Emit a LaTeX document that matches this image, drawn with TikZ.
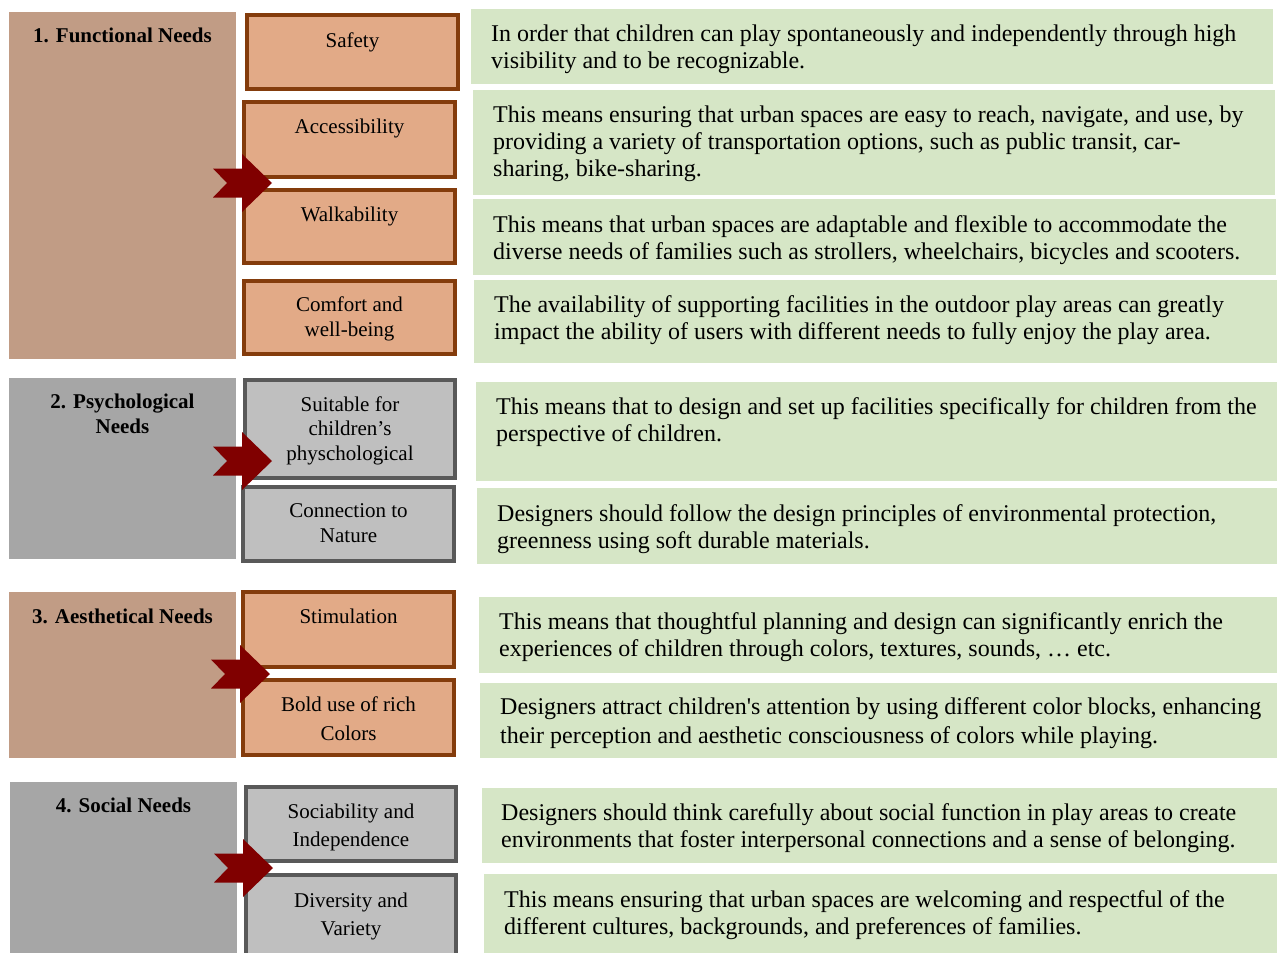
\documentclass[tikz,border=0pt]{standalone}
\usepackage{fontspec}
\setmainfont{Liberation Serif}
\definecolor{lbrown}{RGB}{193,156,133}
\definecolor{lgray}{RGB}{166,166,166}
\definecolor{ofill}{RGB}{226,170,135}
\definecolor{oline}{RGB}{132,60,12}
\definecolor{mgfill}{RGB}{191,191,191}
\definecolor{mgline}{RGB}{89,89,89}
\definecolor{gfill}{RGB}{214,230,198}
\definecolor{arrowred}{RGB}{128,0,0}
\tikzset{
  boxbase/.style={rectangle, inner sep=0pt, outer sep=0pt, anchor=north west},
  obox/.style={boxbase, fill=ofill, draw=oline, line width=3.6pt},
  gbox/.style={boxbase, fill=mgfill, draw=mgline, line width=3.6pt},
  gtext/.style={anchor=north west, inner sep=0pt, align=left, font=\fontsize{24}{27}\selectfont},
  mtext/.style={anchor=north, inner sep=0pt, align=center, font=\fontsize{21}{25}\selectfont},
  ltext/.style={anchor=north, inner sep=0pt, align=center, font=\fontsize{21}{25}\selectfont\bfseries},
  bigarrow/.style={fill=arrowred, draw=none},
}
% filled box without border: name, x1, y1, x2, y2, colour
\newcommand{\fbx}[6]{\node[boxbase, fill=#6, minimum width={#4-#2}, minimum height={#5-#3}] (#1) at (#2,#3) {};}
% bordered box: style, name, x1, y1, x2, y2
\newcommand{\bbx}[6]{\node[#1, minimum width={#5-#3-3.6}, minimum height={#6-#4-3.6}] (#2) at ({#3+1.8},{#4+1.8}) {};}
% green text: name, x, baseline, text
\newcommand{\gtx}[4]{\node[gtext] (#1) at (#2,{#3-17}) {\rule{0pt}{17pt}#4};}
% middle/left text: style, name, cx, baseline, text
\newcommand{\ctx}[5]{\node[#1] (#2) at (#3,{#4-15}) {\rule{0pt}{15pt}#5};}
% arrow: name, left x, centre y
\newcommand{\chev}[3]{\coordinate (#1) at (#2,#3);
  \fill[bigarrow] (#1) ++(0,-14.5) -- ++(29,0) -- ++(0,-14.5) -- ++(30,29) -- ++(-30,29) -- ++(0,-14.5) -- ++(-29,0) -- ++(14,-14.5) -- cycle;}
\begin{document}
\begin{tikzpicture}[x=1pt,y=-1pt]
\useasboundingbox (0,0) rectangle (1277,953);
% left category boxes
\fbx{c1}{9}{12}{236}{359}{lbrown}
\fbx{c2}{9}{378}{236}{559}{lgray}
\fbx{c3}{9}{592}{236}{758}{lbrown}
\fbx{c4}{10}{782}{237}{953}{lgray}
\ctx{ltext}{c1t}{122.5}{42}{1. Functional Needs}
\ctx{ltext}{c2t}{122.5}{408}{2. Psychological\\Needs}
\ctx{ltext}{c3t}{122.5}{623}{3. Aesthetical Needs}
\ctx{ltext}{c4t}{123.5}{812}{4. Social Needs}
% middle boxes
\bbx{obox}{m1}{245}{13}{460}{91}
\bbx{obox}{m2}{242}{100}{457}{179}
\bbx{obox}{m3}{242}{188}{457}{265}
\bbx{obox}{m4}{242}{279}{457}{356}
\bbx{gbox}{m5}{243}{378}{457}{480}
\bbx{gbox}{m6}{241}{485}{456}{563}
\bbx{obox}{m7}{241}{590}{456}{669}
\bbx{obox}{m8}{241}{678}{456}{757}
\bbx{gbox}{m9}{244}{785}{458}{863}
\bbx{gbox}{m10}{244}{873}{458}{962}
\ctx{mtext}{m1t}{352.5}{47}{Safety}
\ctx{mtext}{m2t}{349.5}{133}{Accessibility}
\ctx{mtext}{m3t}{349.5}{221}{Walkability}
\ctx{mtext}{m4t}{349.5}{311}{Comfort and\\well-being}
\ctx{mtext,font=\fontsize{21}{24.5}\selectfont}{m5t}{350}{411}{Suitable for\\children’s\\physchological}
\ctx{mtext}{m6t}{348.5}{517}{Connection to\\Nature}
\ctx{mtext}{m7t}{348.5}{623}{Stimulation}
\ctx{mtext,font=\fontsize{21}{29}\selectfont}{m8t}{348.5}{711}{Bold use of rich\\Colors}
\ctx{mtext,font=\fontsize{21}{28}\selectfont}{m9t}{351}{818}{Sociability and\\Independence}
\ctx{mtext,font=\fontsize{21}{28}\selectfont}{m10t}{351}{907}{Diversity and\\Variety}
% green description boxes
\fbx{d1}{471}{9}{1273}{84}{gfill}
\fbx{d2}{473}{90}{1275}{195}{gfill}
\fbx{d3}{473}{199}{1276}{275}{gfill}
\fbx{d4}{474}{280}{1277}{363}{gfill}
\fbx{d5}{476}{382}{1277}{481}{gfill}
\fbx{d6}{477}{488}{1277}{564}{gfill}
\fbx{d7}{479}{597}{1277}{673}{gfill}
\fbx{d8}{480}{683}{1277}{758}{gfill}
\fbx{d9}{482}{788}{1277}{863}{gfill}
\fbx{d10}{484}{874}{1277}{953}{gfill}
\gtx{d1t}{491}{41}{In order that children can play spontaneously and independently through high\\visibility and to be recognizable.}
\gtx{d2t}{493}{122}{This means ensuring that urban spaces are easy to reach, navigate, and use, by\\providing a variety of transportation options, such as public transit, car-\\sharing, bike-sharing.}
\gtx{d3t}{493}{232}{This means that urban spaces are adaptable and flexible to accommodate the\\diverse needs of families such as strollers, wheelchairs, bicycles and scooters.}
\gtx{d4t}{494}{312}{The availability of supporting facilities in the outdoor play areas can greatly\\impact the ability of users with different needs to fully enjoy the play area.}
\gtx{d5t}{496}{414}{This means that to design and set up facilities specifically for children from the\\perspective of children.}
\gtx{d6t}{497}{521}{Designers should follow the design principles of environmental protection,\\greenness using soft durable materials.}
\gtx{d7t}{499}{629}{This means that thoughtful planning and design can significantly enrich the\\experiences of children through colors, textures, sounds, … etc.}
\node[gtext,font=\fontsize{24}{29}\selectfont] (d8t) at (500,{714-17}) {\rule{0pt}{17pt}Designers attract children\textquotesingle s attention by using different color blocks, enhancing\\their perception and aesthetic consciousness of colors while playing.};
\gtx{d9t}{501}{820}{Designers should think carefully about social function in play areas to create\\environments that foster interpersonal connections and a sense of belonging.}
\gtx{d10t}{504}{907}{This means ensuring that urban spaces are welcoming and respectful of the\\different cultures, backgrounds, and preferences of families.}
% arrows
\chev{a1}{213}{183}
\chev{a2}{213}{461}
\chev{a3}{211}{674}
\chev{a4}{214}{868}
\end{tikzpicture}
\end{document}
